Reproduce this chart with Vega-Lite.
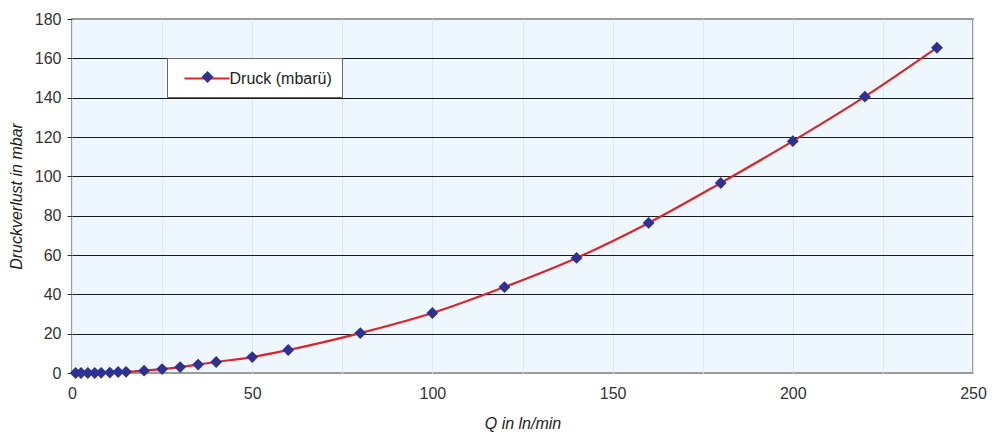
{
  "$schema": "https://vega.github.io/schema/vega-lite/v6.json",
  "width": 901,
  "height": 354,
  "autosize": "none",
  "padding": {"left": 72, "top": 19, "right": 25, "bottom": 68},
  "background": "white",
  "config": {
    "font": "Liberation Sans Narrow, Liberation Sans, sans-serif",
    "view": {"fill": "#edf7fd", "stroke": "#9b9b9b", "strokeWidth": 2}
  },
  "data": {
    "values": [
      {"Q": 1, "Druck": 0},
      {"Q": 2.5, "Druck": 0},
      {"Q": 4.4, "Druck": 0},
      {"Q": 6.3, "Druck": 0},
      {"Q": 8.1, "Druck": 0.1},
      {"Q": 10.5, "Druck": 0.2},
      {"Q": 12.8, "Druck": 0.5},
      {"Q": 15, "Druck": 0.6},
      {"Q": 20, "Druck": 1.2},
      {"Q": 25, "Druck": 2.0},
      {"Q": 30, "Druck": 3.0},
      {"Q": 35, "Druck": 4.3},
      {"Q": 40, "Druck": 5.6},
      {"Q": 50, "Druck": 8.1},
      {"Q": 60, "Druck": 11.7},
      {"Q": 80, "Druck": 20.3},
      {"Q": 100, "Druck": 30.5},
      {"Q": 120, "Druck": 43.7},
      {"Q": 140, "Druck": 58.5},
      {"Q": 160, "Druck": 76.3},
      {"Q": 180, "Druck": 96.6},
      {"Q": 200, "Druck": 117.9},
      {"Q": 220, "Druck": 140.5},
      {"Q": 240, "Druck": 165.4}
    ]
  },
  "encoding": {
    "x": {
      "field": "Q",
      "type": "quantitative",
      "scale": {"domain": [0, 250], "nice": false},
      "axis": {
        "title": "Q in ln/min",
        "titleFont": "Liberation Sans Narrow, Liberation Sans, sans-serif",
        "titleFontStyle": "italic",
        "titleFontWeight": "normal",
        "titleFontSize": 16,
        "titleColor": "#222",
        "titlePadding": 14,
        "values": [0, 25, 50, 75, 100, 125, 150, 175, 200, 225, 250],
        "labelExpr": "datum.value % 50 == 0 ? datum.label : ''",
        "labelFlush": false,
        "labelFontSize": 16,
        "labelColor": "#333",
        "labelPadding": 12,
        "ticks": false,
        "domain": false,
        "grid": true,
        "gridColor": "#dde9f1",
        "gridWidth": 1
      }
    },
    "y": {
      "field": "Druck",
      "type": "quantitative",
      "scale": {"domain": [0, 180], "nice": false},
      "axis": {
        "title": "Druckverlust in mbar",
        "titleFont": "Liberation Sans Narrow, Liberation Sans, sans-serif",
        "titleFontStyle": "italic",
        "titleFontWeight": "normal",
        "titleFontSize": 16,
        "titleColor": "#222",
        "titlePadding": 10,
        "values": [0, 20, 40, 60, 80, 100, 120, 140, 160, 180],
        "labelFlush": false,
        "labelFontSize": 16,
        "labelColor": "#333",
        "labelPadding": 6,
        "tickSize": 5,
        "tickColor": "#333",
        "domain": false,
        "grid": true,
        "gridColor": {"condition": {"test": "datum.value == 0 || datum.value == 180", "value": "transparent"}, "value": "#1a1a1a"},
        "gridWidth": 1.2
      }
    }
  },
  "layer": [
    {
      "mark": {"type": "line", "interpolate": "monotone", "strokeWidth": 2.2},
      "encoding": {
        "stroke": {
          "datum": "Druck (mbarü)",
          "scale": {"range": ["#d8262b"]},
          "legend": {
            "title": null,
            "orient": "none",
            "legendX": 95,
            "legendY": 39,
            "symbolType": "M-2.5,0H2.5",
            "symbolSize": 324,
            "symbolStrokeWidth": 2.2,
            "labelFontSize": 16,
            "labelColor": "#222",
            "labelOffset": 12,
            "padding": 10,
            "symbolOffset": 19.5,
            "fillColor": "white",
            "strokeColor": "#666",
            "zindex": 0
          }
        }
      }
    },
    {
      "mark": {"type": "point", "shape": "diamond", "filled": true, "size": 140, "opacity": 1},
      "encoding": {
        "fill": {
          "datum": "Marker",
          "scale": {"range": ["#2e3192"]},
          "legend": {
            "title": null,
            "orient": "none",
            "legendX": 117.5,
            "legendY": 40,
            "symbolType": "diamond",
            "symbolSize": 144,
            "symbolOpacity": 1,
            "symbolStrokeWidth": 0,
            "labelExpr": "''",
            "labelFontSize": 16,
            "padding": 10,
            "zindex": 1
          }
        }
      }
    }
  ]
}
